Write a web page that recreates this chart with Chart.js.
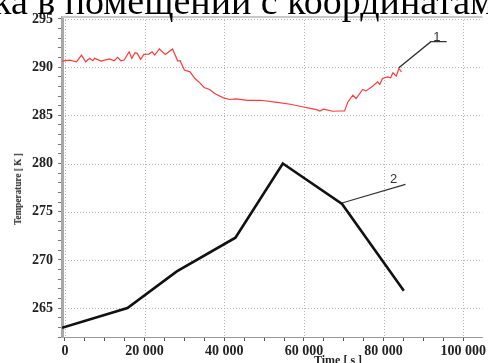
<!DOCTYPE html>
<html>
<head>
<meta charset="utf-8">
<script src="https://cdn.jsdelivr.net/npm/chart.js@4.4.0/dist/chart.umd.min.js"></script>
<style>
  html, body { margin: 0; padding: 0; background: #fff; }
  #wrap { position: relative; width: 488px; height: 363px; overflow: hidden; }
  #heading {
    position: absolute; left: -7px; top: -18px; line-height: 38px;
    font-family: "Liberation Serif", serif; font-size: 38px; color: #000; white-space: nowrap;
  }
  #ytitle {
    position: absolute; left: 17px; top: 189px; transform: translate(-50%, -50%) rotate(-90deg) scaleX(0.84);
    font: bold 11px "Liberation Serif", serif; color: #222; white-space: nowrap;
  }
  #xtitle {
    position: absolute; left: 338px; top: 353px; transform: translateX(-50%);
    font: bold 12px "Liberation Serif", serif; color: #222; white-space: nowrap;
  }
  canvas { position: absolute; left: 0; top: 0; }
</style>
</head>
<body>
<div id="wrap">
  <canvas id="tempChart" width="488" height="363"></canvas>
  <div id="heading">ка в помещении с координатами</div>
  <div id="ytitle">Temperature [ K ]</div>
  <div id="xtitle">Time [ s ]</div>
</div>
<script>
// Curve 1 - measured room air temperature
const timeRoom = [-740, 1240, 2900, 4140, 5200, 6200, 7000, 7430, 9090, 11150, 12390, 13210, 14050, 14870,
  16110, 16780, 17590, 18160, 19010, 19820, 21060, 21880, 22550, 23710, 25200, 27010, 28320, 28920,
  29980, 31400, 32640, 33870, 34940, 36350, 37590, 39650, 41310, 42950, 45840, 49140, 53280, 56580,
  59900, 61950, 63190, 64010, 64850, 67330, 68960, 70200, 71040, 72280, 73100, 74760, 75580, 77240,
  78480, 79050, 79720, 80960, 81770, 82340, 83190, 83830, 84500];
const tempRoom = [290.63, 290.73, 290.55, 291.25, 290.55, 290.91, 290.66, 290.91, 290.63, 290.86, 290.66, 291.01, 290.66, 290.73,
  291.59, 290.91, 291.49, 291.43, 290.80, 291.32, 291.35, 291.59, 291.25, 291.88, 291.32, 291.88, 290.63, 290.66,
  289.69, 289.51, 288.82, 288.36, 287.89, 287.68, 287.26, 286.84, 286.64, 286.70, 286.56, 286.56, 286.35, 286.15,
  285.86, 285.70, 285.59, 285.45, 285.63, 285.42, 285.45, 285.45, 286.39, 287.08, 286.74, 287.68, 287.53, 288.02,
  288.47, 288.20, 288.82, 288.99, 288.89, 289.41, 289.06, 289.86, 289.51];

// Curve 2 - outdoor temperature
const timeOut = [-740, 15690, 28080, 42800, 54700, 69570, 85080];
const tempOut = [262.95, 265.0, 268.8, 272.3, 280.0, 275.8, 266.8];

// Leader lines for the curve numbers
const leader1Time = [83830, 91860, 95830];
const leader1Temp = [289.93, 292.64, 292.64];
const leader2Time = [69560, 85490];
const leader2Temp = [275.9, 277.84];
const curveLabels = ['1', '2'];
const curveLabelTime = [93400, 82500];
const curveLabelTemp = [293.1, 278.4];

// Axis ticks: minor every 5 000 s / 1 K, labelled every 20 000 s / 5 K
const timeTicks = [0, 5000, 10000, 15000, 20000, 25000, 30000, 35000, 40000, 45000, 50000,
  55000, 60000, 65000, 70000, 75000, 80000, 85000, 90000, 95000, 100000];
const timeLabelStep = 20000;
const tempLabelStep = 5;

const toPoints = (xs, ys) => xs.map((x, i) => ({ x: x, y: ys[i] }));
const spaced = v => String(v).replace(/\B(?=(\d{3})+(?!\d))/g, ' ');

// Dotted grid lines at the labelled ticks only, plus a light frame on top
const dottedGrid = {
    id: 'dottedGrid',
    beforeDatasetsDraw(chart) {
        const { ctx, chartArea: a, scales: { x, y } } = chart;
        ctx.save();
        ctx.strokeStyle = '#b4b4b4';
        ctx.lineWidth = 1;
        ctx.setLineDash([1, 2]);
        x.ticks.filter(t => t.value % timeLabelStep === 0).forEach(t => {
            const px = Math.round(x.getPixelForValue(t.value)) + 0.5;
            ctx.beginPath(); ctx.moveTo(px, a.top); ctx.lineTo(px, a.bottom); ctx.stroke();
        });
        y.ticks.filter(t => Math.round(t.value) % tempLabelStep === 0).forEach(t => {
            const py = Math.round(y.getPixelForValue(t.value)) + 0.5;
            ctx.beginPath(); ctx.moveTo(a.left, py); ctx.lineTo(a.right, py); ctx.stroke();
        });
        ctx.setLineDash([]);
        ctx.strokeStyle = '#c8c8c8';
        ctx.lineWidth = 2;
        ctx.beginPath(); ctx.moveTo(a.left, a.top); ctx.lineTo(a.right, a.top); ctx.stroke();
        ctx.restore();
    }
};

// Numbers next to the leader lines
const curveNumbers = {
    id: 'curveNumbers',
    afterDatasetsDraw(chart) {
        const { ctx, scales: { x, y } } = chart;
        ctx.save();
        ctx.fillStyle = '#333';
        ctx.font = '13px "Liberation Sans", sans-serif';
        ctx.textAlign = 'center';
        ctx.textBaseline = 'middle';
        curveLabels.forEach((txt, i) => {
            ctx.fillText(txt, x.getPixelForValue(curveLabelTime[i]), y.getPixelForValue(curveLabelTemp[i]));
        });
        ctx.restore();
    }
};

document.addEventListener('DOMContentLoaded', function() {
    const ctx = document.getElementById('tempChart');
    new Chart(ctx, {
        type: 'scatter',
        data: {
            datasets: [
                { data: toPoints(timeRoom, tempRoom), showLine: true, borderColor: '#ff3b3b', borderWidth: 1.2, pointRadius: 0 },
                { data: toPoints(timeOut, tempOut), showLine: true, borderColor: '#111', borderWidth: 2.6, pointRadius: 0 },
                { data: toPoints(leader1Time, leader1Temp), showLine: true, borderColor: '#333', borderWidth: 1.4, pointRadius: 0 },
                { data: toPoints(leader2Time, leader2Temp), showLine: true, borderColor: '#333', borderWidth: 1.2, pointRadius: 0 }
            ]
        },
        options: {
            responsive: false,
            animation: false,
            layout: { padding: { top: 17, right: 0, left: 0, bottom: 0 } },
            plugins: { legend: { display: false }, tooltip: { enabled: false } },
            scales: {
                x: {
                    type: 'linear',
                    min: -740,
                    max: 104800,
                    afterBuildTicks: s => { s.ticks = timeTicks.map(v => ({ value: v })); },
                    afterFit: s => { s.height = 26; },
                    border: { color: '#9a9a9a', width: 1 },
                    grid: { drawOnChartArea: false, tickLength: 4, tickColor: '#555' },
                    ticks: {
                        autoSkip: false,
                        maxRotation: 0,
                        padding: 2,
                        color: '#222',
                        font: { family: 'Liberation Serif', weight: 'bold', size: 14 },
                        callback: v => (v % timeLabelStep === 0 ? spaced(v) : '')
                    }
                },
                y: {
                    type: 'linear',
                    min: 262,
                    max: 295.2,
                    afterFit: s => { s.width = 62; },
                    border: { color: '#a8a8a8', width: 3 },
                    grid: { drawOnChartArea: false, tickLength: 4, tickColor: '#777' },
                    ticks: {
                        stepSize: 1,
                        includeBounds: false,
                        autoSkip: false,
                        padding: 5,
                        color: '#222',
                        font: { family: 'Liberation Serif', weight: 'bold', size: 14 },
                        callback: v => (Math.round(v) % tempLabelStep === 0 ? String(Math.round(v)) : '')
                    }
                }
            }
        },
        plugins: [dottedGrid, curveNumbers]
    });
});
</script>
</body>
</html>
